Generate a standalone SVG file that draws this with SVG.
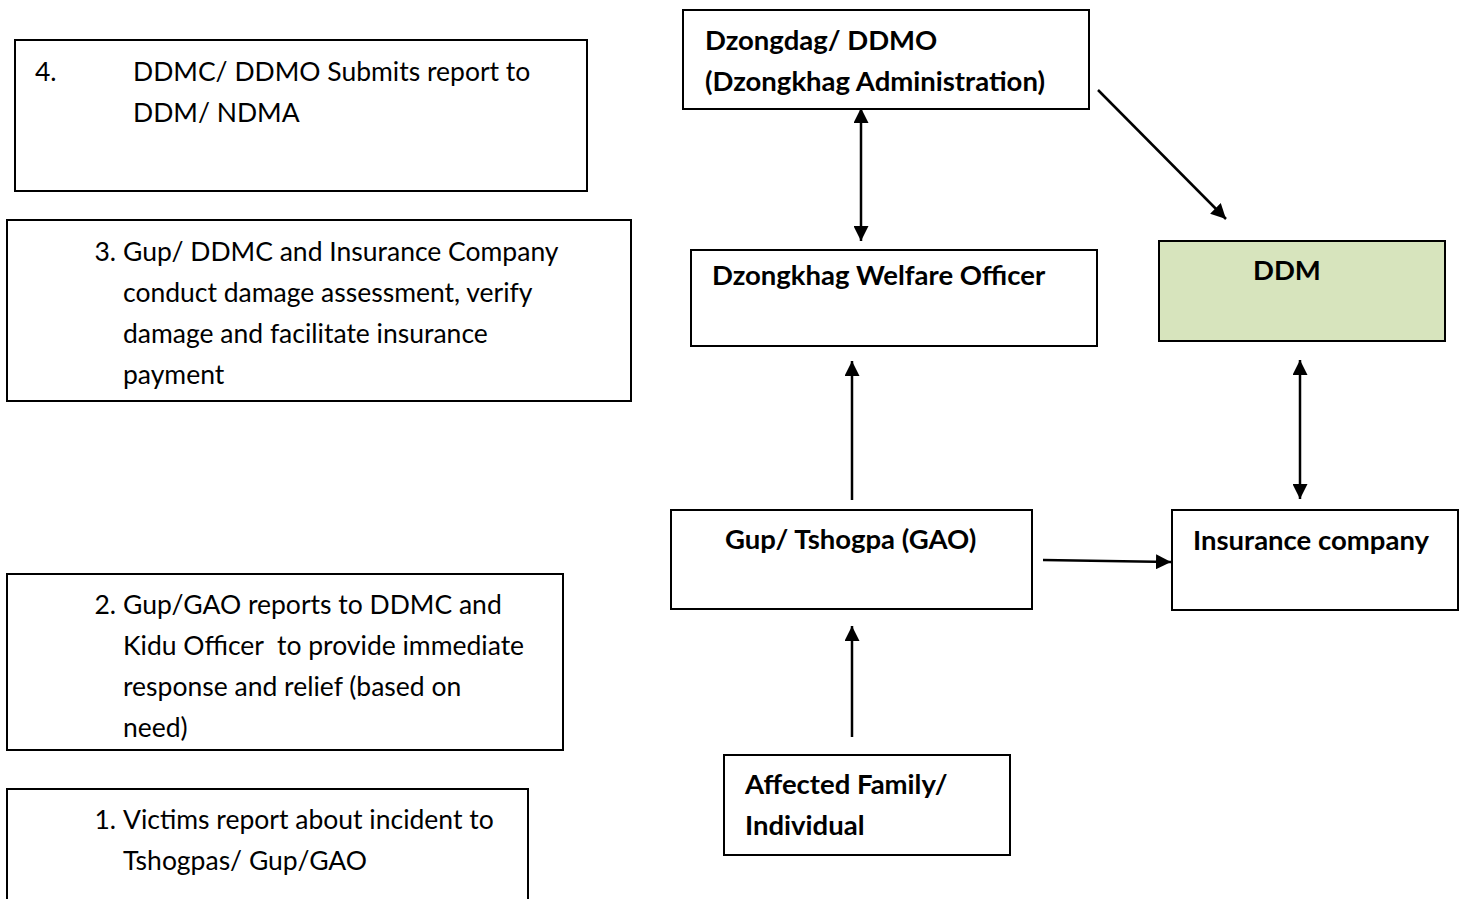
<svg xmlns="http://www.w3.org/2000/svg" width="1464" height="899" viewBox="0 0 1464 899">
  <style>
    .box { fill: #ffffff; stroke: #000000; stroke-width: 2; }
    .green { fill: #d7e4bd; }
    .t { font-family: Lato, "Open Sans", "Liberation Sans", sans-serif; font-size: 26.5px; fill: #000000; }
    .b { font-weight: bold; font-size: 27.5px; }
    .num { text-anchor: end; }
    .edge { stroke: #000000; stroke-width: 2.5; fill: none; }
  </style>
  <defs>
    <marker id="arrow" viewBox="0 0 10 10" refX="10" refY="5" markerWidth="6" markerHeight="6" markerUnits="strokeWidth" orient="auto-start-reverse">
      <path d="M0,0 L10,5 L0,10 z" fill="#000000"/>
    </marker>
  </defs>

  <rect width="1464" height="899" fill="#ffffff"/>

  <!-- process steps, left column -->
  <g id="step4">
    <rect class="box" x="15" y="40" width="572" height="151"/>
    <text class="t" x="35" y="81">4.</text>
    <text class="t" x="133" y="81">DDMC/ DDMO Submits report to</text>
    <text class="t" x="133" y="122">DDM/ NDMA</text>
  </g>
  <g id="step3">
    <rect class="box" x="7" y="220" width="624" height="181"/>
    <text class="t num" x="116" y="261">3.</text>
    <text class="t" x="123" y="261">Gup/ DDMC and Insurance Company</text>
    <text class="t" x="123" y="302">conduct damage assessment, verify</text>
    <text class="t" x="123" y="343">damage and facilitate insurance</text>
    <text class="t" x="123" y="384">payment</text>
  </g>
  <g id="step2">
    <rect class="box" x="7" y="574" width="556" height="176"/>
    <text class="t num" x="116" y="614">2.</text>
    <text class="t" x="123" y="614">Gup/GAO reports to DDMC and</text>
    <text class="t" x="123" y="655" xml:space="preserve">Kidu Officer  to provide immediate</text>
    <text class="t" x="123" y="696">response and relief (based on</text>
    <text class="t" x="123" y="737">need)</text>
  </g>
  <g id="step1">
    <rect class="box" x="7" y="789" width="521" height="130"/>
    <text class="t num" x="116" y="829">1.</text>
    <text class="t" x="123" y="829">Victims report about incident to</text>
    <text class="t" x="123" y="870">Tshogpas/ Gup/GAO</text>
  </g>

  <!-- reporting chain, right side -->
  <g id="dzongdag">
    <rect class="box" x="683" y="10" width="406" height="99"/>
    <text class="t b" x="705" y="50">Dzongdag/ DDMO</text>
    <text class="t b" x="705" y="91">(Dzongkhag Administration)</text>
  </g>
  <g id="welfare">
    <rect class="box" x="691" y="250" width="406" height="96"/>
    <text class="t b" x="712" y="285">Dzongkhag Welfare Officer</text>
  </g>
  <g id="ddm">
    <rect class="box green" x="1159" y="241" width="286" height="100"/>
    <text class="t b" x="1253" y="280">DDM</text>
  </g>
  <g id="gup">
    <rect class="box" x="671" y="510" width="361" height="99"/>
    <text class="t b" x="725" y="549">Gup/ Tshogpa (GAO)</text>
  </g>
  <g id="insurance">
    <rect class="box" x="1172" y="510" width="286" height="100"/>
    <text class="t b" x="1193" y="550">Insurance company</text>
  </g>
  <g id="affected">
    <rect class="box" x="724" y="755" width="286" height="100"/>
    <text class="t b" x="745" y="794">Affected Family/</text>
    <text class="t b" x="745" y="835">Individual</text>
  </g>

  <g id="connectors">
    <line class="edge" x1="861" y1="108" x2="861" y2="241" marker-start="url(#arrow)" marker-end="url(#arrow)"/>
    <line class="edge" x1="852" y1="500" x2="852" y2="361" marker-end="url(#arrow)"/>
    <line class="edge" x1="852" y1="737" x2="852" y2="626" marker-end="url(#arrow)"/>
    <line class="edge" x1="1043" y1="560" x2="1171" y2="562" marker-end="url(#arrow)"/>
    <line class="edge" x1="1098" y1="90" x2="1226" y2="219" marker-end="url(#arrow)"/>
    <line class="edge" x1="1300" y1="360" x2="1300" y2="499" marker-start="url(#arrow)" marker-end="url(#arrow)"/>
  </g>
</svg>
